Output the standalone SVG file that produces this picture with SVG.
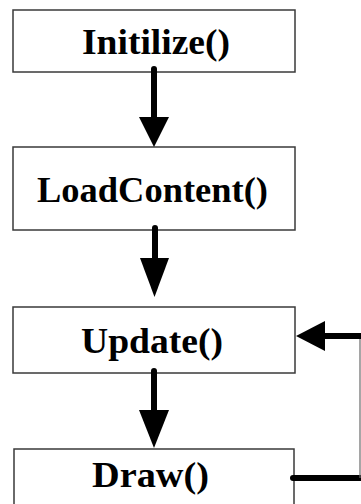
<svg xmlns="http://www.w3.org/2000/svg" width="361" height="504" viewBox="0 0 361 504">
  <style>
    .box { fill: #ffffff; stroke: #3a3a3a; stroke-width: 1.5; }
    .label { font-family: "Liberation Serif", "Times New Roman", serif; font-weight: bold; font-size: 36px; fill: #000000; }
    .shaft { stroke: #000000; stroke-width: 6; stroke-linecap: round; fill: none; }
    .head { fill: #000000; }
    .thin { stroke: #6a6a6a; stroke-width: 1.2; fill: none; }
  </style>
  <rect width="361" height="504" fill="#ffffff"/>

  <g id="node-initilize">
    <rect class="box" x="13" y="10" width="282" height="62"/>
    <text class="label" x="82" y="54" textLength="148" lengthAdjust="spacingAndGlyphs">Initilize()</text>
  </g>

  <g id="node-loadcontent">
    <rect class="box" x="13" y="147" width="282" height="83"/>
    <text class="label" x="37" y="202" textLength="231" lengthAdjust="spacingAndGlyphs">LoadContent()</text>
  </g>

  <g id="node-update">
    <rect class="box" x="13" y="307" width="282" height="66"/>
    <text class="label" x="81" y="353" textLength="142" lengthAdjust="spacingAndGlyphs">Update()</text>
  </g>

  <g id="node-draw">
    <rect class="box" x="14" y="449" width="280" height="70"/>
    <text class="label" x="92" y="487" textLength="117" lengthAdjust="spacingAndGlyphs">Draw()</text>
  </g>

  <g id="connectors">
    <!-- Initilize -> LoadContent -->
    <line class="shaft" x1="154" y1="69" x2="154" y2="120"/>
    <polygon class="head" points="139,117 169,117 154,147"/>
    <!-- LoadContent -> Update -->
    <line class="shaft" x1="155" y1="228" x2="155" y2="261"/>
    <polygon class="head" points="140,258 169,258 154.5,297"/>
    <!-- Update -> Draw -->
    <line class="shaft" x1="154" y1="371" x2="154" y2="413"/>
    <polygon class="head" points="139,410 169,410 154,448"/>
    <!-- Draw -> Update (loop back) -->
    <line class="shaft" x1="293" y1="478" x2="364" y2="478"/>
    <line class="thin" x1="360" y1="336" x2="360" y2="478"/>
    <line class="shaft" x1="322" y1="336" x2="364" y2="336" style="stroke-linecap: butt"/>
    <polygon class="head" points="296,336 325,321 325,351"/>
  </g>
</svg>
